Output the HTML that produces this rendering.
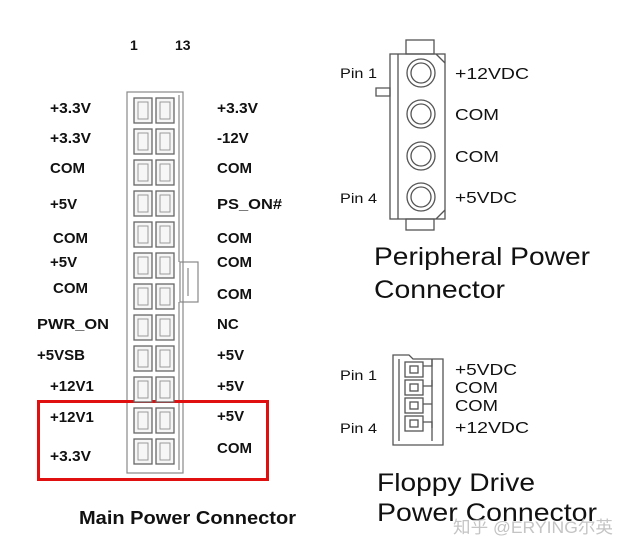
<!DOCTYPE html>
<html><head><meta charset="utf-8"><style>
html,body{margin:0;padding:0;background:#fff;}
svg{display:block;}
text{font-family:"Liberation Sans",Arial,sans-serif;fill:#111;}
.b{font-weight:bold;font-size:15px;}
.p{font-size:14px;}
.r{font-size:16px;}
</style></head><body>
<svg width="629" height="557" viewBox="0 0 629 557" xmlns="http://www.w3.org/2000/svg">
<text x="130" y="50" class="b" style="font-size:14px">1</text>
<text x="175" y="50" class="b" style="font-size:14px">13</text>
<g fill="none" stroke="#888" stroke-width="1.2">
<rect x="127" y="92" width="56" height="381"/>
<line x1="179" y1="95" x2="179" y2="262"/>
<line x1="179" y1="302" x2="179" y2="470"/>
<rect x="180" y="262" width="18" height="40"/>
<line x1="188" y1="268" x2="188" y2="296"/>
</g>
<g class="b">
<text x="50" y="113" class="b" textLength="41" lengthAdjust="spacingAndGlyphs">+3.3V</text>
<text x="50" y="143" class="b" textLength="41" lengthAdjust="spacingAndGlyphs">+3.3V</text>
<text x="50" y="173" class="b">COM</text>
<text x="50" y="209" class="b">+5V</text>
<text x="53" y="243" class="b">COM</text>
<text x="50" y="267" class="b">+5V</text>
<text x="53" y="293" class="b">COM</text>
<text x="37" y="329" class="b" textLength="72" lengthAdjust="spacingAndGlyphs">PWR_ON</text>
<text x="37" y="360" class="b">+5VSB</text>
<text x="50" y="391" class="b">+12V1</text>
<text x="50" y="422" class="b">+12V1</text>
<text x="50" y="461" class="b" textLength="41" lengthAdjust="spacingAndGlyphs">+3.3V</text>
<text x="217" y="113" class="b" textLength="41" lengthAdjust="spacingAndGlyphs">+3.3V</text>
<text x="217" y="143" class="b">-12V</text>
<text x="217" y="173" class="b">COM</text>
<text x="217" y="209" class="b" textLength="65" lengthAdjust="spacingAndGlyphs">PS_ON#</text>
<text x="217" y="243" class="b">COM</text>
<text x="217" y="267" class="b">COM</text>
<text x="217" y="299" class="b">COM</text>
<text x="217" y="329" class="b">NC</text>
<text x="217" y="360" class="b">+5V</text>
<text x="217" y="391" class="b">+5V</text>
<text x="217" y="421" class="b">+5V</text>
<text x="217" y="453" class="b">COM</text>
</g>
<rect x="38.5" y="401.5" width="229" height="78" fill="none" stroke="#e01010" stroke-width="3"/>
<text x="79" y="524" style="font-size:18px;font-weight:bold" textLength="217" lengthAdjust="spacingAndGlyphs">Main Power Connector</text>

<g fill="none" stroke="#555" stroke-width="1.3">
<rect x="406" y="40" width="28" height="14"/>
<rect x="406" y="219" width="28" height="11"/>
<rect x="390" y="54" width="55" height="165"/>
<line x1="398" y1="54" x2="398" y2="219"/>
<path d="M376 88 h14 v8 h-14 z"/>
<line x1="436" y1="54" x2="445" y2="63"/>
<line x1="436" y1="219" x2="445" y2="210"/>
<circle cx="421" cy="73" r="14"/><circle cx="421" cy="73" r="10"/>
<circle cx="421" cy="114" r="14"/><circle cx="421" cy="114" r="10"/>
<circle cx="421" cy="156" r="14"/><circle cx="421" cy="156" r="10"/>
<circle cx="421" cy="197" r="14"/><circle cx="421" cy="197" r="10"/>
</g>
<text x="340" y="78" class="p" textLength="37" lengthAdjust="spacingAndGlyphs">Pin 1</text>
<text x="340" y="203" class="p" textLength="37" lengthAdjust="spacingAndGlyphs">Pin 4</text>
<text x="455" y="79" class="r" textLength="74" lengthAdjust="spacingAndGlyphs">+12VDC</text>
<text x="455" y="120" class="r" textLength="44" lengthAdjust="spacingAndGlyphs">COM</text>
<text x="455" y="162" class="r" textLength="44" lengthAdjust="spacingAndGlyphs">COM</text>
<text x="455" y="203" class="r" textLength="62" lengthAdjust="spacingAndGlyphs">+5VDC</text>
<text x="374" y="265" style="font-size:25px" textLength="216" lengthAdjust="spacingAndGlyphs">Peripheral Power</text>
<text x="374" y="298" style="font-size:25px" textLength="131" lengthAdjust="spacingAndGlyphs">Connector</text>

<g fill="none" stroke="#555" stroke-width="1.3">
<path d="M393 355 h16 l4 4 h30 v86 h-50 z"/>
<line x1="399" y1="359" x2="399" y2="441"/>
<rect x="405" y="362" width="18" height="15"/><rect x="410" y="366" width="8" height="7"/>
<rect x="405" y="380" width="18" height="15"/><rect x="410" y="384" width="8" height="7"/>
<rect x="405" y="398" width="18" height="15"/><rect x="410" y="402" width="8" height="7"/>
<rect x="405" y="416" width="18" height="15"/><rect x="410" y="420" width="8" height="7"/>
<path d="M423 366 h9 v-7 M423 386 h9 v-6 M423 404 h9 M423 422 h9 v6"/>
<line x1="432" y1="359" x2="432" y2="441"/>
</g>
<text x="340" y="380" class="p" textLength="37" lengthAdjust="spacingAndGlyphs">Pin 1</text>
<text x="340" y="433" class="p" textLength="37" lengthAdjust="spacingAndGlyphs">Pin 4</text>
<text x="455" y="375" class="r" textLength="62" lengthAdjust="spacingAndGlyphs">+5VDC</text>
<text x="455" y="393" class="r" textLength="43" lengthAdjust="spacingAndGlyphs">COM</text>
<text x="455" y="411" class="r" textLength="43" lengthAdjust="spacingAndGlyphs">COM</text>
<text x="455" y="433" class="r" textLength="74" lengthAdjust="spacingAndGlyphs">+12VDC</text>
<text x="377" y="491" style="font-size:25px" textLength="158" lengthAdjust="spacingAndGlyphs">Floppy Drive</text>
<text x="377" y="521" style="font-size:25px" textLength="220" lengthAdjust="spacingAndGlyphs">Power Connector</text>
<text x="453" y="533" style="font-size:17px;fill:#c4c4c4;font-family:'Liberation Sans','Noto Sans CJK SC',sans-serif" textLength="160" lengthAdjust="spacingAndGlyphs">知乎 @ERYING尔英</text>

<g fill="#f6f6f6" stroke="#666" stroke-width="1.3">
<rect x="134" y="98" width="18" height="25"/><rect x="156" y="98" width="18" height="25"/>
<rect x="134" y="129" width="18" height="25"/><rect x="156" y="129" width="18" height="25"/>
<rect x="134" y="160" width="18" height="25"/><rect x="156" y="160" width="18" height="25"/>
<rect x="134" y="191" width="18" height="25"/><rect x="156" y="191" width="18" height="25"/>
<rect x="134" y="222" width="18" height="25"/><rect x="156" y="222" width="18" height="25"/>
<rect x="134" y="253" width="18" height="25"/><rect x="156" y="253" width="18" height="25"/>
<rect x="134" y="284" width="18" height="25"/><rect x="156" y="284" width="18" height="25"/>
<rect x="134" y="315" width="18" height="25"/><rect x="156" y="315" width="18" height="25"/>
<rect x="134" y="346" width="18" height="25"/><rect x="156" y="346" width="18" height="25"/>
<rect x="134" y="377" width="18" height="25"/><rect x="156" y="377" width="18" height="25"/>
<rect x="134" y="408" width="18" height="25"/><rect x="156" y="408" width="18" height="25"/>
<rect x="134" y="439" width="18" height="25"/><rect x="156" y="439" width="18" height="25"/>
</g>
<g fill="none" stroke="#999" stroke-width="1">
<rect x="138" y="102" width="10" height="17"/><rect x="160" y="102" width="10" height="17"/>
<rect x="138" y="133" width="10" height="17"/><rect x="160" y="133" width="10" height="17"/>
<rect x="138" y="164" width="10" height="17"/><rect x="160" y="164" width="10" height="17"/>
<rect x="138" y="195" width="10" height="17"/><rect x="160" y="195" width="10" height="17"/>
<rect x="138" y="226" width="10" height="17"/><rect x="160" y="226" width="10" height="17"/>
<rect x="138" y="257" width="10" height="17"/><rect x="160" y="257" width="10" height="17"/>
<rect x="138" y="288" width="10" height="17"/><rect x="160" y="288" width="10" height="17"/>
<rect x="138" y="319" width="10" height="17"/><rect x="160" y="319" width="10" height="17"/>
<rect x="138" y="350" width="10" height="17"/><rect x="160" y="350" width="10" height="17"/>
<rect x="138" y="381" width="10" height="17"/><rect x="160" y="381" width="10" height="17"/>
<rect x="138" y="412" width="10" height="17"/><rect x="160" y="412" width="10" height="17"/>
<rect x="138" y="443" width="10" height="17"/><rect x="160" y="443" width="10" height="17"/>
</g>
</svg>
</body></html>
